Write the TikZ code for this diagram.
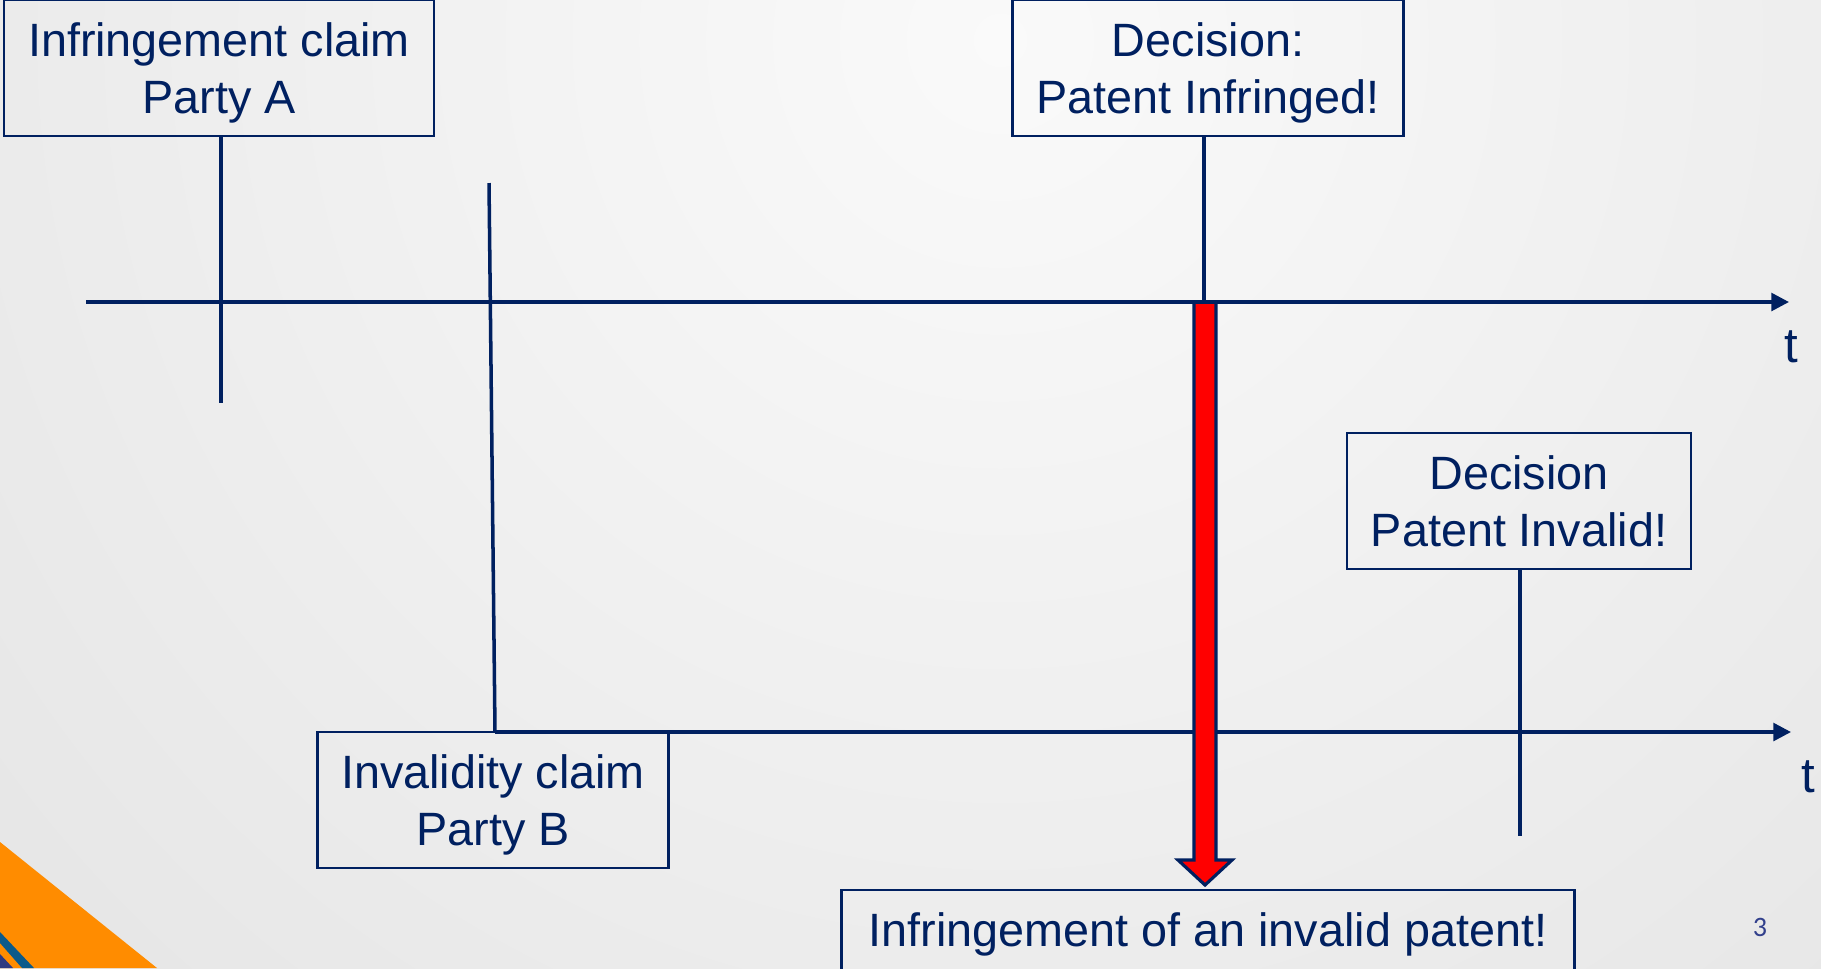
\documentclass[tikz,border=0pt]{standalone}
\usepackage{fontspec}
\setmainfont{Liberation Sans}
\newfontfamily\pagenofont{Carlito}
\usepackage{tikz}
\usetikzlibrary{arrows.meta}

\definecolor{navy}{RGB}{0,32,96}
\definecolor{slideorange}{RGB}{255,140,0}
\definecolor{slideteal}{RGB}{12,90,138}
\definecolor{slideblue}{RGB}{46,58,128}
\definecolor{pageno}{RGB}{50,64,140}

\begin{document}
\begin{tikzpicture}[
        x=0.1mm, y=-0.1mm,
        claimbox/.style={
            % The shape:
            rectangle,
            % The size:
            minimum height=13.6mm,
            inner sep=2pt,
            text depth=0pt,
            % The border
            line width=0.6pt,
            draw=navy,
            % Font
            text=navy,
            align=center,
            font=\fontsize{13.3}{16}\selectfont
        },
        timeline/.style={
            line width=1pt,
            draw=navy
        },
        axislabel/.style={
            text=navy,
            font=\fontsize{14}{16}\selectfont
        }]

        % background of the slide
        \useasboundingbox (0,0) rectangle (1821,968);
        \begin{scope}
            \clip (0,0) rectangle (1821,968);
            \shade[inner color=gray!4, outer color=gray!38] (1000,40) circle (2900);
            \fill[slideorange] (0,842) -- (157,968) -- (0,968) -- cycle;
            \fill[slideteal] (0,932) -- (34,968) -- (22,968) -- (0,943) -- cycle;
            \fill[slideblue] (0,954) -- (13,968) -- (0,968) -- cycle;
        \end{scope}

        % the boxes
        \node [claimbox, minimum width=43mm]   (claimA) at (219,68)   {Infringement claim\\Party A};
        \node [claimbox, minimum width=39.1mm] (decInf) at (1208,68)  {Decision:\\Patent Infringed!};
        \node [claimbox, minimum width=35.1mm] (claimB) at (493,800)  {Invalidity claim\\Party B};
        \node [claimbox, minimum width=34.4mm] (decInv) at (1519,501) {Decision\\Patent Invalid!};
        \node [claimbox, minimum width=73.3mm, minimum height=8mm] (result) at (1208,930)
            {Infringement of an invalid patent!};

        % points on the two time axes
        \coordinate (axisA) at (86,302);
        \coordinate (tipA) at (1789,302);
        \coordinate (aLow) at (221,403);
        \coordinate (bTop) at (489,183);
        \coordinate (bFoot) at (495,732);
        \coordinate (tipB) at (1791,732);
        \coordinate (infHit) at (1204,302);
        \coordinate (invLow) at (1520,836);

        % lower time axis, party B
        \draw [timeline] (bTop) -- (bFoot);
        \draw [timeline, -{Triangle[length=5pt, width=5pt]}] (bFoot) -- (tipB);
        \draw [timeline] (decInv.south -| invLow) -- (invLow);

        % red arrow down to the result
        \filldraw [fill=red, draw=navy, line width=0.9pt, line join=miter]
            (1194,302) -- (1194,860) -- (1178,860) -- (1205,885)
            -- (1232,860) -- (1216,860) -- (1216,302) -- cycle;

        % upper time axis, party A
        \draw [timeline, -{Triangle[length=5pt, width=5pt]}] (axisA) -- (tipA);
        \draw [timeline] (claimA.south -| aLow) -- (aLow);
        \draw [timeline] (decInf.south -| infHit) -- (infHit);

        \node [axislabel] (tA) at (1791,347) {t};
        \node [axislabel] (tB) at (1808,777) {t};

        \node [text=pageno, font=\pagenofont\fontsize{8}{9}\selectfont] (pageNo) at (1760,927) {3};

    \end{tikzpicture}
\end{document}
